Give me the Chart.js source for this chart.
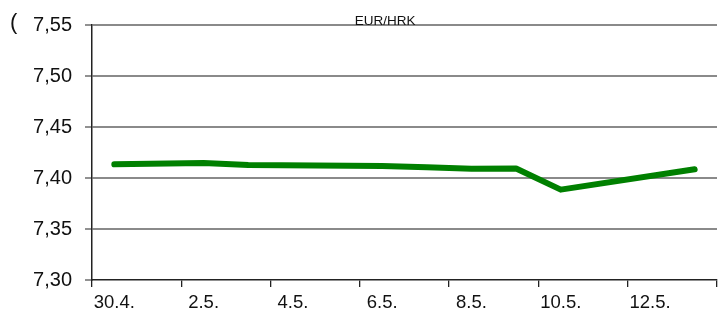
<!DOCTYPE html>
<html>
<head>
<meta charset="utf-8">
<script src="https://cdn.jsdelivr.net/npm/chart.js@4"></script>
<style>
  html, body { margin: 0; padding: 0; background: #fff; }
  #wrap { width: 718px; height: 314px; position: relative; }
</style>
</head>
<body>
<div id="wrap"><canvas id="line-chart-eurhrk"></canvas></div>
<script>
// daily EUR/HRK rate, gaps = no rate published that day
const days = ['30.4.','1.5.','2.5.','3.5.','4.5.','5.5.','6.5.','7.5.','8.5.','9.5.','10.5.','11.5.','12.5.','13.5.'];
const eurHrk = [7.4134, null, 7.4147, 7.4128, null, null, 7.4118, 7.4105, 7.4090, 7.4093, 7.3886, null, null, 7.4085];
const yMin = 7.30, yMax = 7.55, yStep = 0.05;

// small text bits drawn on the canvas (title sits on the top grid line)
const extraText = {
  id: 'extraText',
  afterDraw(chart) {
    const c = chart.ctx, a = chart.chartArea;
    c.save();
    c.fillStyle = '#111';
    c.textAlign = 'center';
    c.textBaseline = 'alphabetic';
    c.font = '13.5px "Liberation Sans", Arial, sans-serif';
    c.fillText('EUR/HRK', a.left + (a.right - a.left) * 0.469, 25);
    c.textAlign = 'left';
    c.font = '22px "Liberation Sans", Arial, sans-serif';
    c.fillText('(', 10, 29);
    c.restore();
  }
};

new Chart(document.getElementById('line-chart-eurhrk'), {
  type: 'line',
  data: {
    labels: days,
    datasets: [{
      label: 'EUR/HRK',
      data: eurHrk,
      borderColor: '#008000',
      borderWidth: 6,
      borderCapStyle: 'round',
      borderJoinStyle: 'round',
      pointRadius: 0,
      tension: 0,
      spanGaps: true,
      fill: false
    }]
  },
  options: {
    responsive: true,
    maintainAspectRatio: false,
    animation: false,
    devicePixelRatio: 1,
    layout: { padding: { top: 25, right: 1, left: 0, bottom: 0 } },
    plugins: {
      legend: { display: false },
      title: { display: false },
      tooltip: { enabled: false }
    },
    scales: {
      x: {
        offset: true,
        grid: {
          offset: true,
          drawOnChartArea: false,
          drawTicks: true,
          tickLength: 7,
          lineWidth: 1.3,
          color: (c) => (c.index === undefined || c.index % 2 === 0) ? '#222' : 'rgba(0,0,0,0)'
        },
        border: { display: true, color: '#222', width: 1.5 },
        ticks: {
          autoSkip: false,
          maxRotation: 0,
          padding: 5,
          color: '#111',
          font: { family: '"Liberation Sans", Arial, sans-serif', size: 18.5 },
          callback: function (v, i) { return i % 2 === 0 ? this.getLabelForValue(v) : ''; }
        },
        afterFit: (s) => { s.height = 34; }
      },
      y: {
        min: yMin,
        max: yMax,
        grid: {
          color: (c) => c.index === 0 ? 'rgba(0,0,0,0)' : '#8a8a8a',
          lineWidth: 2,
          tickLength: 7,
          tickColor: '#555',
          tickWidth: 1.3
        },
        border: { display: true, color: '#222', width: 1.5 },
        ticks: {
          stepSize: yStep,
          padding: 13,
          color: '#111',
          font: { family: '"Liberation Sans", Arial, sans-serif', size: 20 },
          callback: (v) => v.toFixed(2).replace('.', ',')
        },
        afterFit: (s) => { s.width = 92; }
      }
    }
  },
  plugins: [extraText]
});
</script>
</body>
</html>
